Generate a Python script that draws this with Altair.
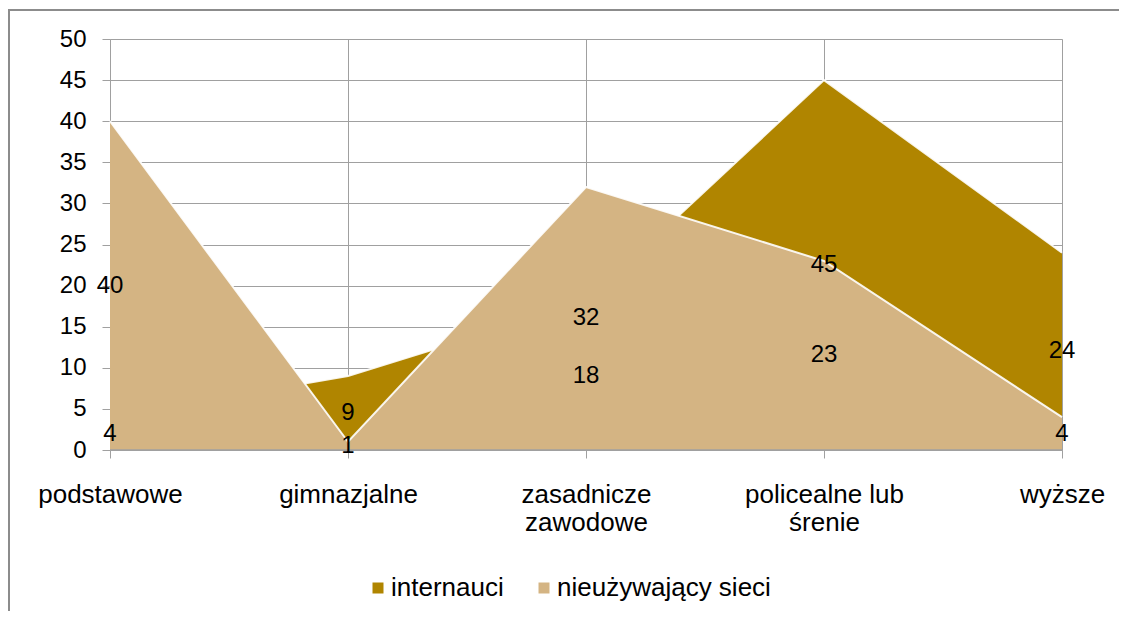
import altair as alt
import pandas as pd

categories = ["podstawowe", "gimnazjalne", "zasadnicze zawodowe", "policealne lub śrenie", "wyższe"]
series_names = ["internauci", "nieużywający sieci"]
internauci = [4, 9, 18, 45, 24]
nieuzywajacy = [40, 1, 32, 23, 4]
y_ticks = list(range(0, 55, 5))
colors = ["#B08500", "#D4B483"]

rows = []
for name, vals in zip(series_names, [internauci, nieuzywajacy]):
    for c, v in zip(categories, vals):
        rows.append({"kat": c, "seria": name, "wartosc": v})
df = pd.DataFrame(rows)

FONT = "Liberation Sans"
FS_NUM = 24
FS_TXT = 26
GRID = "#A0A0A0"

label_expr = ("datum.label == 'zasadnicze zawodowe' ? ['zasadnicze', 'zawodowe'] : "
              "datum.label == 'policealne lub śrenie' ? ['policealne lub', 'śrenie'] : datum.label")

x_enc = alt.X("kat:N", sort=categories,
              scale=alt.Scale(type="point", padding=0),
              axis=alt.Axis(title=None, labelAngle=0, grid=True, gridColor=GRID,
                            ticks=True, tickSize=8, tickColor=GRID, domainColor=GRID,
                            labelPadding=23, labelExpr=label_expr, labelFont=FONT,
                            labelFontSize=FS_TXT, labelColor="black", labelLineHeight=28,
                            labelOverlap=False, labelBound=False, labelFlush=False))
y_enc = alt.Y("wartosc:Q", stack=None,
              scale=alt.Scale(domain=[0, 50], nice=False, zero=True),
              axis=alt.Axis(title=None, values=y_ticks, grid=True, gridColor=GRID,
                            ticks=True, tickSize=8, tickColor=GRID, domainColor=GRID,
                            labelPadding=16, labelFont=FONT, labelFontSize=FS_NUM,
                            labelColor="black"))
color_enc = alt.Color("seria:N", sort=series_names,
                      scale=alt.Scale(domain=series_names, range=colors),
                      legend=alt.Legend(title=None, orient="none", legendX=255, legendY=536,
                                        direction="horizontal", symbolType="square",
                                        symbolSize=121, symbolStrokeWidth=0, symbolOpacity=1,
                                        labelFont=FONT, labelFontSize=FS_TXT, labelColor="black",
                                        labelLimit=0, columnPadding=27, labelOffset=0,
                                        padding=0))

base = alt.Chart(df)

frame = alt.Chart(alt.Data(values=[{}])).mark_rect(
    fill=None, stroke="#8C8C8C", strokeWidth=2
).encode(x=alt.value(-101), y=alt.value(-29), x2=alt.value(1200), y2=alt.value(800))

layers = [frame]
for name in series_names:
    sub = base.transform_filter(alt.datum.seria == name)
    layers.append(sub.mark_area(opacity=1).encode(x=x_enc, y=y_enc, color=color_enc))
    layers.append(sub.mark_line(strokeWidth=2, opacity=0.9).encode(x=x_enc, y=y_enc,
                                                                   color=alt.value("white")))

zero_rule = alt.Chart(alt.Data(values=[{}])).mark_rule(color=GRID, strokeWidth=1.5).encode(
    y=alt.datum(0))

labels = base.transform_calculate(mid="datum.wartosc / 2").mark_text(
    font=FONT, fontSize=FS_NUM, color="black", align="center", baseline="middle"
).encode(x=x_enc, y=alt.Y("mid:Q"), text="wartosc:Q")

layers += [zero_rule, labels]

chart = alt.layer(*layers).properties(
    width=952, height=411,
    autosize=alt.AutoSizeParams(type="none"),
    padding={"left": 102, "top": 31, "right": 57, "bottom": 161}
).configure_view(stroke=None).configure(background="white")

chart.save("out.html", embed_options={"renderer": "svg", "actions": False})
